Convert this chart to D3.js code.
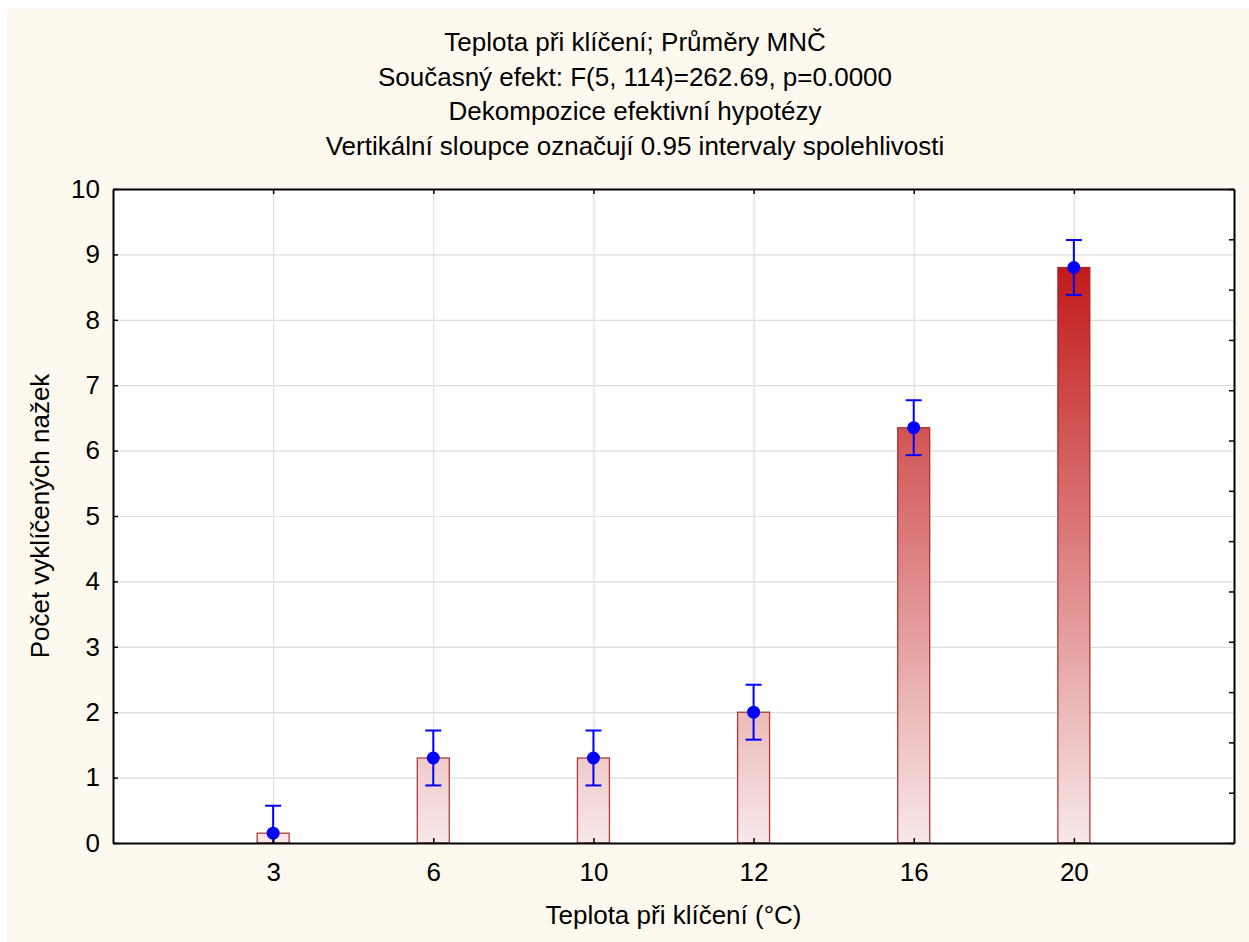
<!DOCTYPE html>
<html>
<head>
<meta charset="utf-8">
<script src="https://cdn.jsdelivr.net/npm/d3@7"></script>
<style>
  body { margin: 0; background: #fff; }
  svg text { font-family: "Liberation Sans", Arial, sans-serif; fill: #000; }
</style>
</head>
<body>
<div id="chart"></div>
<script>
const categories = ['3', '6', '10', '12', '16', '20'];
const means = [0.15, 1.3, 1.3, 2.0, 6.35, 8.8];
const lower = [-0.27, 0.88, 0.88, 1.58, 5.93, 8.38];
const upper = [0.57, 1.72, 1.72, 2.42, 6.77, 9.22];
const yTicks = [0, 1, 2, 3, 4, 5, 6, 7, 8, 9, 10];
const titleLines = [
  'Teplota při klíčení; Průměry MNČ',
  'Současný efekt: F(5, 114)=262.69, p=0.0000',
  'Dekompozice efektivní hypotézy',
  'Vertikální sloupce označují 0.95 intervaly spolehlivosti'
];
const xTitle = 'Teplota při klíčení (°C)';
const yTitle = 'Počet vyklíčených nažek';

const width = 1249,
  height = 942,
  margin = { left: 113, right: 15, top: 189, bottom: 99 },
  fontSize = '26px';
const plotW = width - margin.left - margin.right,
  plotH = height - margin.top - margin.bottom;

const svg = d3.select('div#chart').append('svg')
  .attr('width', width)
  .attr('height', height);

// cream panel
svg.append('rect')
  .attr('x', 7).attr('y', 9)
  .attr('width', width - 7).attr('height', height - 9)
  .attr('fill', '#fef9ee');

const defs = svg.append('defs');

// gradient runs over the whole plot height, so short bars stay pale
const grad = defs.append('linearGradient')
  .attr('id', 'barGrad')
  .attr('gradientUnits', 'userSpaceOnUse')
  .attr('x1', 0).attr('x2', 0)
  .attr('y1', plotH).attr('y2', 0);
grad.append('stop').attr('offset', '0%').attr('stop-color', '#f8e9e9');
grad.append('stop').attr('offset', '88%').attr('stop-color', '#c21a1a');
grad.append('stop').attr('offset', '100%').attr('stop-color', '#bd1010');

defs.append('clipPath').attr('id', 'plotClip')
  .append('rect').attr('width', plotW).attr('height', plotH);

const x = d3.scalePoint()
  .domain(categories)
  .range([0, plotW])
  .padding(1);

const y = d3.scaleLinear()
  .domain([0, 10])
  .range([plotH, 0]);

const g = svg.append('g')
  .attr('transform', 'translate(' + margin.left + ',' + margin.top + ')');

g.append('rect')
  .attr('width', plotW).attr('height', plotH)
  .attr('fill', '#fff');

// grid
g.append('g')
  .call(d3.axisLeft(y).tickValues(yTicks).tickSize(-plotW).tickFormat(''))
  .call(a => a.select('.domain').remove())
  .selectAll('line').attr('stroke', '#dedede').attr('stroke-width', 1.2);
g.append('g')
  .call(d3.axisBottom(x).tickSize(plotH).tickFormat(''))
  .call(a => a.select('.domain').remove())
  .selectAll('line').attr('stroke', '#dedede').attr('stroke-width', 1.2);

// bars
const data = categories.map((c, i) => ({ c, m: means[i], lo: lower[i], hi: upper[i] }));
const barW = 32;

g.selectAll('rect.bar')
  .data(data)
  .join('rect')
  .attr('class', 'bar')
  .attr('x', d => x(d.c) - barW / 2)
  .attr('y', d => y(d.m))
  .attr('width', barW)
  .attr('height', d => y(0) - y(d.m))
  .attr('fill', 'url(#barGrad)')
  .attr('stroke', '#a51c1c')
  .attr('stroke-opacity', 0.85)
  .attr('stroke-width', 1.3);

// error bars
const err = g.append('g').attr('clip-path', 'url(#plotClip)');
const capW = 16;
err.selectAll('line.whisker')
  .data(data)
  .join('line')
  .attr('x1', d => x(d.c)).attr('x2', d => x(d.c))
  .attr('y1', d => y(d.lo)).attr('y2', d => y(d.hi))
  .attr('stroke', '#0000ff').attr('stroke-width', 2);
err.selectAll('line.capHi')
  .data(data)
  .join('line')
  .attr('class', 'capHi')
  .attr('x1', d => x(d.c) - capW / 2).attr('x2', d => x(d.c) + capW / 2)
  .attr('y1', d => y(d.hi)).attr('y2', d => y(d.hi))
  .attr('stroke', '#0000ff').attr('stroke-width', 2);
err.selectAll('line.capLo')
  .data(data.filter(d => d.lo >= 0))
  .join('line')
  .attr('class', 'capLo')
  .attr('x1', d => x(d.c) - capW / 2).attr('x2', d => x(d.c) + capW / 2)
  .attr('y1', d => y(d.lo)).attr('y2', d => y(d.lo))
  .attr('stroke', '#0000ff').attr('stroke-width', 2);
err.selectAll('circle')
  .data(data)
  .join('circle')
  .attr('cx', d => x(d.c))
  .attr('cy', d => y(d.m))
  .attr('r', 6.5)
  .attr('fill', '#0000ff');

// axes, ticks point inward
const styleAxis = a => {
  a.select('.domain').attr('stroke', '#000').attr('stroke-width', 2);
  a.selectAll('.tick line').attr('stroke', '#000').attr('stroke-width', 1.5);
  a.selectAll('text').style('font-size', fontSize).attr('fill', '#000');
};

g.append('g')
  .call(d3.axisLeft(y).tickValues(yTicks).tickSizeInner(-5).tickSizeOuter(0).tickPadding(13))
  .call(styleAxis);

g.append('g')
  .attr('transform', 'translate(0,' + plotH + ')')
  .call(d3.axisBottom(x).tickSizeInner(-5).tickSizeOuter(0).tickPadding(20))
  .call(styleAxis);

g.append('g')
  .call(d3.axisTop(x).tickSizeInner(-5).tickSizeOuter(0).tickFormat(''))
  .call(styleAxis);

// right axis uses its own spacing, as in the original
const rightTicks = d3.range(14).map(k => k * 10 / 13);
g.append('g')
  .attr('transform', 'translate(' + plotW + ',0)')
  .call(d3.axisRight(y).tickValues(rightTicks).tickSizeInner(-5).tickSizeOuter(0).tickFormat(''))
  .call(styleAxis);

// titles
svg.append('g').selectAll('text')
  .data(titleLines)
  .join('text')
  .attr('x', 635)
  .attr('y', (d, i) => 51 + i * 34.5)
  .attr('text-anchor', 'middle')
  .style('font-size', fontSize)
  .text(d => d);

svg.append('text')
  .attr('x', margin.left + plotW / 2)
  .attr('y', 924)
  .attr('text-anchor', 'middle')
  .style('font-size', fontSize)
  .text(xTitle);

svg.append('text')
  .attr('transform', 'translate(49,' + (margin.top + plotH / 2) + ') rotate(-90)')
  .attr('text-anchor', 'middle')
  .style('font-size', fontSize)
  .text(yTitle);
</script>
</body>
</html>
